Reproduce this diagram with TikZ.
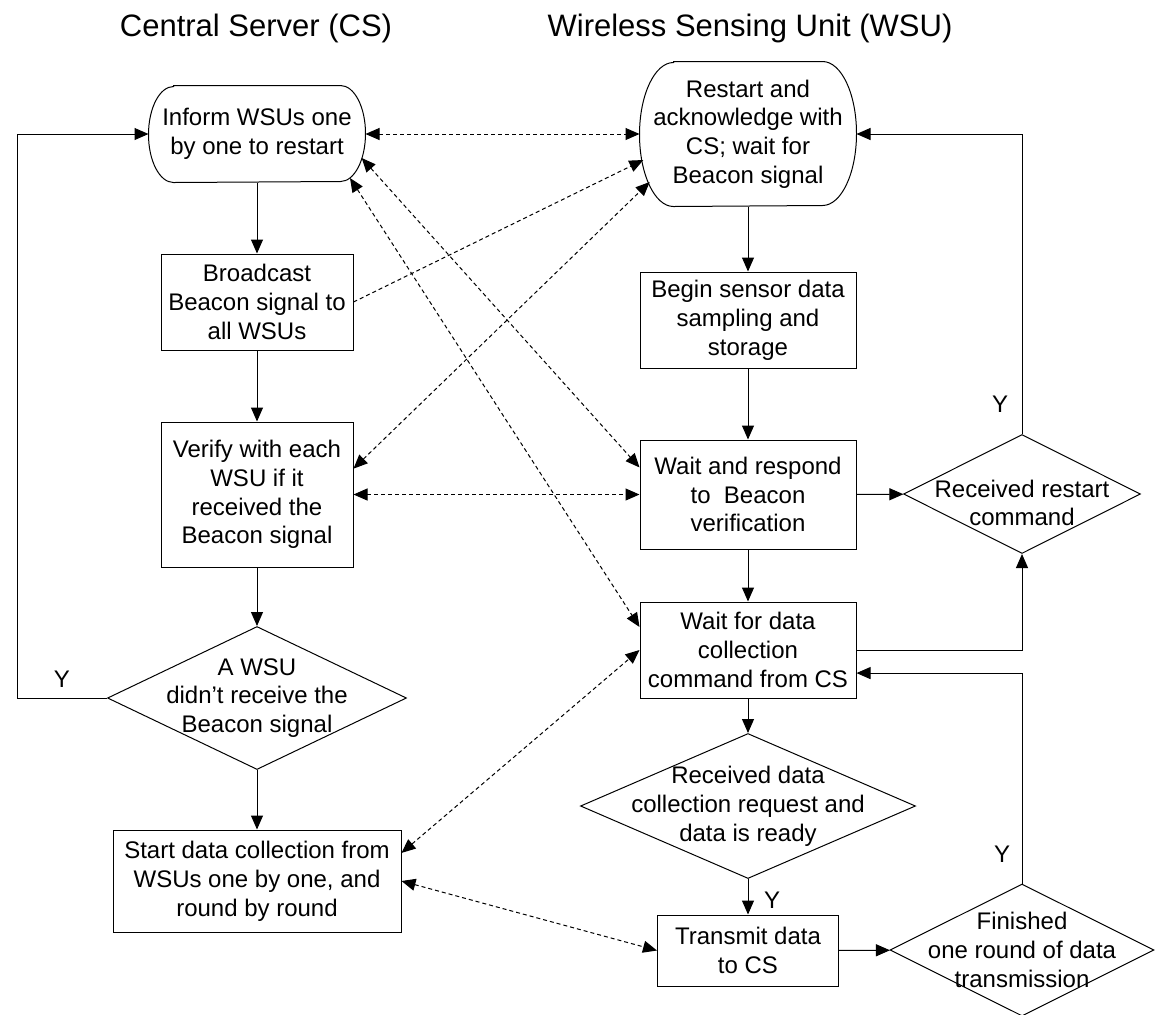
\documentclass[tikz,border=0pt]{standalone}
\usepackage{fontspec}
\setmainfont{Liberation Sans}
\usetikzlibrary{shapes.geometric,arrows.meta,calc}

\tikzset{
  txt/.style={align=center, inner sep=0pt, font=\fontsize{12}{14.4}\selectfont},
  box/.style={draw, rectangle, txt},
  term/.style={rectangle, txt},
  decision/.style={draw, diamond, inner sep=0pt},
  title/.style={anchor=base, font=\fontsize{15.5}{18}\selectfont},
  flow/.style={->},
  link/.style={dash pattern=on 2pt off 1.5pt},
}
% outline of a terminal node with half-elliptic ends: node, x radius, y radius
\newcommand{\termoutline}[3]{%
  \draw ([xshift=#2]#1.north west) -- ([xshift=-#2]#1.north east)
    arc[start angle=90, end angle=-90, x radius=#2, y radius=#3]
    -- ([xshift=#2]#1.south west)
    arc[start angle=270, end angle=90, x radius=#2, y radius=#3] -- cycle;}

\begin{document}
\begin{tikzpicture}[x=0.5pt, y=-0.5pt, line width=0.5pt, >={Triangle[length=7pt,width=6pt]}]
\useasboundingbox (0,0) rectangle (1156,1014);
\node[title] (cs) at (256,36) {Central Server (CS)};
\node[title] (wsu) at (750,36) {Wireless Sensing Unit (WSU)};
% central server
\node[term, minimum width=108pt, minimum height=48pt] (inform) at (257,134) {Inform WSUs one\\by one to restart};
\termoutline{inform}{12.5pt}{24pt}
\node[box, minimum width=96pt, minimum height=48pt] (bcast) at (257,302) {Broadcast\\Beacon signal to\\all WSUs};
\node[box, minimum width=96pt, minimum height=72.5pt] (verify) at (257,494.5) {Verify with each\\WSU if it\\received the\\Beacon signal};
\node[decision, minimum width=149.5pt, minimum height=71.5pt] (chkA) at (257,698) {};
\node[txt] (chkAtxt) at (chkA) {A WSU\\didn't receive the\\Beacon signal};
\node[box, minimum width=144pt, minimum height=51pt] (start) at (257,881) {Start data collection from\\WSUs one by one, and\\round by round};
% sensing unit
\node[term, minimum width=108pt, minimum height=72pt] (restart) at (748,134) {Restart and\\acknowledge with\\CS; wait for\\Beacon signal};
\termoutline{restart}{17pt}{36pt}
\node[box, minimum width=108pt, minimum height=48pt] (begin) at (748,320) {Begin sensor data\\sampling and\\storage};
\node[box, minimum width=108pt, minimum height=54.5pt] (respond) at (748,494.5) {Wait and respond\\to\ \ Beacon\\verification};
\node[decision, minimum width=118.5pt, minimum height=59.5pt] (chkR) at (1022,494) {};
\node[txt] (chkRtxt) at (1022,503) {Received restart\\command};
\node[box, minimum width=108pt, minimum height=48pt] (waitcmd) at (748,650) {Wait for data\\collection\\command from CS};
\node[decision, minimum width=167.5pt, minimum height=72.5pt] (chkD) at (748,806) {};
\node[txt] (chkDtxt) at (chkD) {Received data\\collection request and\\data is ready};
\node[box, minimum width=90.5pt, minimum height=35.5pt] (transmit) at (748,950.5) {Transmit data\\to CS};
\node[decision, minimum width=132pt, minimum height=66pt] (chkF) at (1022,950) {};
\node[txt] (chkFtxt) at (chkF) {Finished\\one round of data\\transmission};
% labels
\node[txt, anchor=base] (yA) at (62,687) {Y};
\node[txt, anchor=base] (yR) at (1000,412) {Y};
\node[txt, anchor=base] (yD) at (772,908) {Y};
\node[txt, anchor=base] (yF) at (1002,862) {Y};
\coordinate (loopA) at (17,698);
% flow
\draw[flow] (inform) -- (bcast);
\draw[flow] (bcast) -- (verify);
\draw[flow] (verify) -- (chkA);
\draw[flow] (chkA) -- (start);
\draw[flow] (chkA.west) -- (loopA) |- (inform.west);
\draw[flow] (restart) -- (begin);
\draw[flow] (begin) -- (respond);
\draw[flow] (respond) -- (chkR);
\draw[flow] (chkR.north) |- (restart.east);
\draw[flow] (respond) -- (waitcmd);
\draw[flow] (waitcmd.east) -| (chkR.south);
\draw[flow] (waitcmd) -- (chkD);
\draw[flow] (chkD) -- (transmit);
\draw[flow] (transmit) -- (chkF);
\draw[flow] (chkF.north) |- (waitcmd.-12);
% messages
\draw[link, <->] (inform.east) -- (restart.west);
\draw[link, ->] (bcast.east) -- ($(restart)+(-104.7,26)$);
\draw[link, <->] (verify.15) -- ($(restart)+(-98.3,48)$);
\draw[link, <->] ($(inform)+(104.7,24)$) -- (respond.166);
\draw[link, <->] ($(inform)+(93,44)$) -- (waitcmd.168);
\draw[link, <->] (verify.east) -- (respond.west);
\draw[link, <->] (start.11) -- (waitcmd.west);
\draw[link, <->] (start.east) -- (transmit.west);
\end{tikzpicture}
\end{document}
